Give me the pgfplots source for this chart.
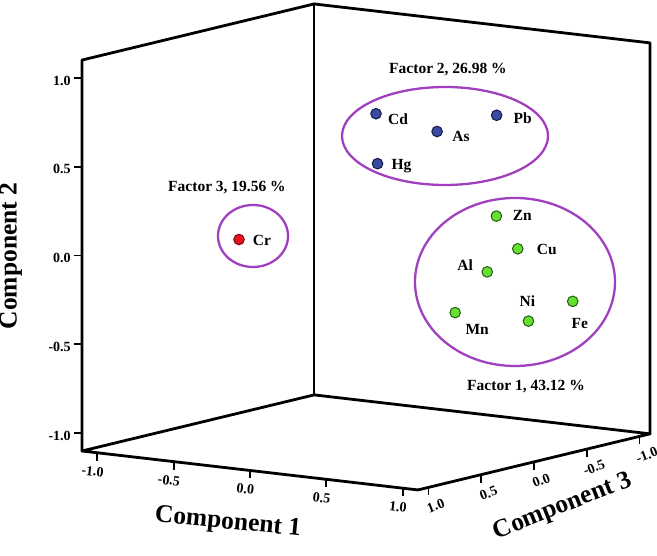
\documentclass[border=0pt]{standalone}
\usepackage{fontspec}
\setmainfont{Liberation Serif}
\usepackage{pgfplots}
\pgfplotsset{compat=1.18}
\usetikzlibrary{calc}
\definecolor{ellc}{HTML}{A040BE}
\definecolor{bfill}{HTML}{3A4AA0}
\definecolor{bdraw}{HTML}{151A48}
\definecolor{gfill}{HTML}{66E030}
\definecolor{gdraw}{HTML}{1E5E12}
\definecolor{rfill}{HTML}{E81020}
\definecolor{rdraw}{HTML}{7A0A10}
\newcommand{\lbl}{\fontsize{15.5}{16}\selectfont\bfseries}
\newcommand{\axl}{\fontsize{25.5}{27}\selectfont\bfseries}
% pgf x = Component 1, pgf y = -(Component 3), pgf z = Component 2
\begin{document}
\begin{tikzpicture}[font=\bfseries]
\begin{axis}[
  x={(152.7pt,-17.7pt)}, y={(105.5pt,25.5pt)}, z={(0pt,177.7pt)},
  xmin=-1.1, xmax=1.1, ymin=-1.1, ymax=1.1, zmin=-1.1, zmax=1.1,
  xtick={-1,-0.5,0,0.5,1}, ytick={-1,-0.5,0,0.5,1}, ztick={-1,-0.5,0,0.5,1},
  xticklabels={-1.0,-0.5,0.0,0.5,1.0},
  yticklabels={1.0,0.5,0.0,-0.5,-1.0},
  zticklabels={-1.0,-0.5,0.0,0.5,1.0},
  tickpos=left,
  tick align=outside,
  major tick length=8pt,
  tick style={draw=none},
  tick label style={font=\fontsize{14}{14}\selectfont\bfseries},
  xticklabel style={rotate=-6.6, anchor=north, xshift=5pt, yshift=-8pt},
  yticklabel style={rotate=21, anchor=north, xshift=-7pt, yshift=-8pt},
  clip=false,
]
% frame of the box
\draw[black, line width=2.8pt, line join=round, line cap=round]
  (axis cs:-1.1,-1.1,-1.1) -- (axis cs:1.1,-1.1,-1.1) -- (axis cs:1.1,1.1,-1.1) -- (axis cs:-1.1,1.1,-1.1) -- cycle;
\draw[black, line width=2.8pt, line join=round, line cap=round]
  (axis cs:-1.1,-1.1,-1.1) -- (axis cs:-1.1,-1.1,1.1) -- (axis cs:-1.1,1.1,1.1) -- (axis cs:1.1,1.1,1.1) -- (axis cs:1.1,1.1,-1.1);
\draw[black, line width=2.8pt, line cap=round]
  (axis cs:-1.1,1.1,-1.1) -- (axis cs:-1.1,1.1,1.1);
% Factor 2 (blue)
\addplot3[only marks, mark=*, mark size=5.3pt, mark options={fill=bfill, draw=bdraw, line width=1pt}]
  coordinates {(-0.28,0.5,0.65) (0.12,0.5,0.59) (0.51,0.5,0.72) (-0.27,0.5,0.37)};
% Factor 1 (green)
\addplot3[only marks, mark=*, mark size=5.3pt, mark options={fill=gfill, draw=gdraw, line width=1pt}]
  coordinates {(0.37,0.7,0.11) (0.51,0.7,-0.06) (0.31,0.7,-0.21) (0.10,0.7,-0.46) (0.58,0.7,-0.46) (0.87,0.7,-0.32)};
% Factor 3 (red)
\addplot3[only marks, mark=*, mark size=5.3pt, mark options={fill=rfill, draw=rdraw, line width=1pt}]
  coordinates {(-0.21,-0.9,0.15)};
\node[font=\lbl, xshift=22pt, yshift=-5pt] at (axis cs:-0.28,0.5,0.65) {Cd};
\node[font=\lbl, xshift=24pt, yshift=-5pt] at (axis cs:0.12,0.5,0.59) {As};
\node[font=\lbl, xshift=26pt, yshift=-3pt] at (axis cs:0.51,0.5,0.72) {Pb};
\node[font=\lbl, xshift=24pt, yshift=-2pt] at (axis cs:-0.27,0.5,0.37) {Hg};
\node[font=\lbl, xshift=26pt, yshift=1pt] at (axis cs:0.37,0.7,0.11) {Zn};
\node[font=\lbl, xshift=29pt, yshift=-1pt] at (axis cs:0.51,0.7,-0.06) {Cu};
\node[font=\lbl, xshift=-22pt, yshift=7pt] at (axis cs:0.31,0.7,-0.21) {Al};
\node[font=\lbl, xshift=22pt, yshift=-17pt] at (axis cs:0.10,0.7,-0.46) {Mn};
\node[font=\lbl, xshift=-1pt, yshift=20pt] at (axis cs:0.58,0.7,-0.46) {Ni};
\node[font=\lbl, xshift=7pt, yshift=-22pt] at (axis cs:0.87,0.7,-0.32) {Fe};
\node[font=\lbl, xshift=23pt, yshift=-1pt] at (axis cs:-0.21,-0.9,0.15) {Cr};
\coordinate (A) at (axis cs:-1.1,-1.1,-1.1);
\end{axis}
% tick marks on the three front axes
\foreach \t in {-1,-0.5,0,0.5,1} {
  \draw[black, line width=1.8pt] ($(A)+({(\t+1.1)*152.7pt},{-(\t+1.1)*17.7pt})$) -- ++(0pt,-8pt);
  \draw[black, line width=1.8pt] ($(A)+({2.2*152.7pt+(\t+1.1)*105.5pt},{-2.2*17.7pt+(\t+1.1)*25.5pt})$) -- ++(0pt,-8pt);
  \draw[black, line width=1.8pt] ($(A)+(0pt,{(\t+1.1)*177.7pt})$) -- ++(-8pt,0pt);
}
\draw[ellc, line width=2.3pt] ($(A)+(363pt,315pt)$) ellipse (103pt and 49pt);
\draw[ellc, line width=2.3pt] ($(A)+(433pt,169pt)$) ellipse (100pt and 84pt);
\draw[ellc, line width=2.3pt] ($(A)+(171pt,215pt)$) ellipse (35pt and 31pt);
\node[font=\lbl] at ($(A)+(366pt,381pt)$) {Factor 2, 26.98 \%};
\node[font=\lbl] at ($(A)+(145pt,263pt)$) {Factor 3, 19.56 \%};
\node[font=\lbl] at ($(A)+(444pt,64pt)$) {Factor 1, 43.12 \%};
\node[font=\axl, rotate=-5.5] at ($(A)+(146pt,-72pt)$) {Component 1};
\node[font=\axl, rotate=21.5] at ($(A)+(481pt,-56pt)$) {Component 3};
\node[font=\axl, rotate=90] at ($(A)+(-71pt,195pt)$) {Component 2};
\pgfresetboundingbox
\path ($(A)+(-82pt,-105pt)$) rectangle ($(A)+(575pt,451pt)$);
\end{tikzpicture}
\end{document}
